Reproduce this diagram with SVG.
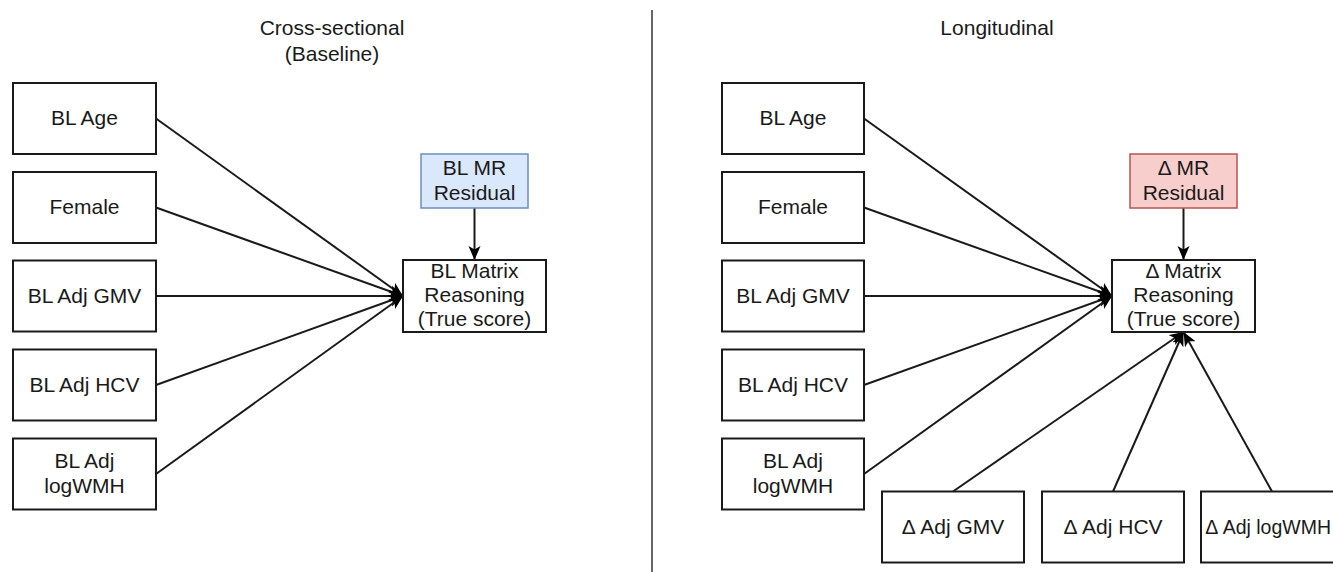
<svg xmlns="http://www.w3.org/2000/svg" width="1333" height="572" viewBox="0 0 1333 572">
  <defs>
    <style>
      .box { fill: #ffffff; stroke: #1a1a1a; stroke-width: 2; }
      .blue { fill: #dae8fc; stroke: #6c8ebf; stroke-width: 1.5; }
      .red { fill: #f8cecc; stroke: #b85450; stroke-width: 1.5; }
      .t { font-family: "Liberation Sans", Arial, sans-serif; font-size: 21px; fill: #1a1a1a; text-anchor: middle; }
      .edge { stroke: #1a1a1a; stroke-width: 2; fill: none; marker-end: url(#arrow); }
      .divider { stroke: #333333; stroke-width: 1.5; }
    </style>
    <marker id="arrow" markerUnits="userSpaceOnUse" markerWidth="16" markerHeight="14" refX="14" refY="6" orient="auto">
      <path d="M0,0 L14,6 L0,12 L3.5,6 Z" fill="#000000"/>
    </marker>
  </defs>
  <rect width="1333" height="572" fill="#ffffff"/>

  <g id="titles">
    <text class="t" x="332" y="35">Cross-sectional</text>
    <text class="t" x="332" y="61">(Baseline)</text>
    <text class="t" x="997" y="35">Longitudinal</text>
  </g>

  <line class="divider" x1="652" y1="10" x2="652" y2="572"/>

  <g id="connectors">
    <line class="edge" x1="156" y1="118.5" x2="403" y2="296"/>
    <line class="edge" x1="156" y1="207.5" x2="403" y2="296"/>
    <line class="edge" x1="156" y1="296" x2="403" y2="296"/>
    <line class="edge" x1="156" y1="385" x2="403" y2="296"/>
    <line class="edge" x1="156" y1="474" x2="403" y2="296"/>
    <line class="edge" x1="474.5" y1="208" x2="474.5" y2="260"/>

    <line class="edge" x1="864" y1="118.5" x2="1112" y2="296"/>
    <line class="edge" x1="864" y1="207.5" x2="1112" y2="296"/>
    <line class="edge" x1="864" y1="296" x2="1112" y2="296"/>
    <line class="edge" x1="864" y1="385" x2="1112" y2="296"/>
    <line class="edge" x1="864" y1="474" x2="1112" y2="296"/>
    <line class="edge" x1="1183.5" y1="208" x2="1183.5" y2="260"/>
    <line class="edge" x1="953" y1="491.5" x2="1183.5" y2="332"/>
    <line class="edge" x1="1113" y1="491.5" x2="1183.5" y2="332"/>
    <line class="edge" x1="1272" y1="491.5" x2="1183.5" y2="332"/>
  </g>

  <!-- Left panel -->
  <g id="l-age"><rect class="box" x="13" y="83" width="143" height="71"/><text class="t" x="84.5" y="125">BL Age</text></g>
  <g id="l-female"><rect class="box" x="13" y="172" width="143" height="71"/><text class="t" x="84.5" y="214">Female</text></g>
  <g id="l-gmv"><rect class="box" x="13" y="260.5" width="143" height="71"/><text class="t" x="84.5" y="303">BL Adj GMV</text></g>
  <g id="l-hcv"><rect class="box" x="13" y="349.5" width="143" height="71"/><text class="t" x="84.5" y="392">BL Adj HCV</text></g>
  <g id="l-wmh"><rect class="box" x="13" y="438.5" width="143" height="71"/><text class="t" x="84.5" y="467.5">BL Adj</text><text class="t" x="84.5" y="493">logWMH</text></g>
  <g id="l-resid"><rect class="blue" x="421" y="154" width="107" height="54"/><text class="t" x="474.5" y="175">BL MR</text><text class="t" x="474.5" y="200">Residual</text></g>
  <g id="l-mr"><rect class="box" x="403" y="260" width="143" height="72"/><text class="t" x="474.5" y="278">BL Matrix</text><text class="t" x="474.5" y="302">Reasoning</text><text class="t" x="474.5" y="326">(True score)</text></g>

  <!-- Right panel -->
  <g id="r-age"><rect class="box" x="722" y="83" width="142" height="71"/><text class="t" x="793" y="125">BL Age</text></g>
  <g id="r-female"><rect class="box" x="722" y="172" width="142" height="71"/><text class="t" x="793" y="214">Female</text></g>
  <g id="r-gmv"><rect class="box" x="722" y="260.5" width="142" height="71"/><text class="t" x="793" y="303">BL Adj GMV</text></g>
  <g id="r-hcv"><rect class="box" x="722" y="349.5" width="142" height="71"/><text class="t" x="793" y="392">BL Adj HCV</text></g>
  <g id="r-wmh"><rect class="box" x="722" y="438.5" width="142" height="71"/><text class="t" x="793" y="467.5">BL Adj</text><text class="t" x="793" y="493">logWMH</text></g>
  <g id="r-resid"><rect class="red" x="1130" y="154" width="107" height="54"/><text class="t" x="1183.5" y="175">Δ MR</text><text class="t" x="1183.5" y="200">Residual</text></g>
  <g id="r-mr"><rect class="box" x="1112" y="260" width="143" height="72"/><text class="t" x="1183.5" y="278">Δ Matrix</text><text class="t" x="1183.5" y="302">Reasoning</text><text class="t" x="1183.5" y="326">(True score)</text></g>
  <g id="d-gmv"><rect class="box" x="882" y="491.5" width="142" height="71"/><text class="t" x="953" y="534">Δ Adj GMV</text></g>
  <g id="d-hcv"><rect class="box" x="1042" y="491.5" width="142" height="71"/><text class="t" x="1113" y="534">Δ Adj HCV</text></g>
  <g id="d-wmh"><rect class="box" x="1201" y="491.5" width="142" height="71"/><text class="t" x="1331" y="534" style="text-anchor:end;font-size:19.5px">Δ Adj logWMH</text></g>
</svg>
